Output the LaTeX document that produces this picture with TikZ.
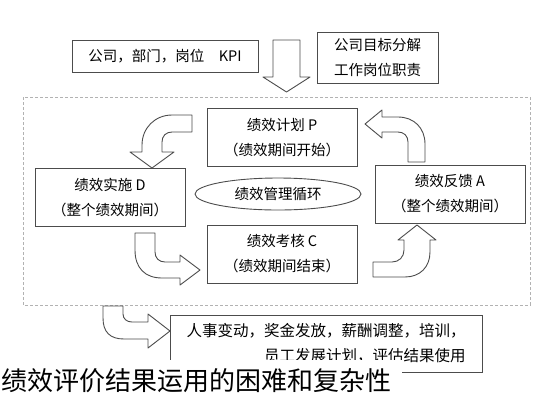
\documentclass[tikz,border=0pt]{standalone}
\usepackage{fontspec}
\setmainfont{Noto Sans CJK SC}
\usepackage{tikz}
\usetikzlibrary{shapes.geometric}
\newcommand{\fs}[2]{\fontsize{#1}{#2}\selectfont}

\begin{document}
\begin{tikzpicture}[x=1pt,y=-1pt,
  bx/.style={draw=black!70,line width=.9pt,align=center,inner sep=0pt,font=\fs{14.5}{25}},
  arw/.style={draw=black!70,line width=.9pt,fill=white,line join=round}]
\useasboundingbox (0,0) rectangle (553,400);
\draw[black!30,dash pattern=on 3pt off 2pt,line width=.7pt] (23,97) rectangle (530,305);
\node[bx,minimum width=186pt,minimum height=32pt] (kpi) at (165,56) {公司，部门，岗位\quad KPI};
\node[bx,minimum width=121pt,minimum height=51pt] (goal) at (377.5,57.5) {公司目标分解\\工作岗位职责};
\foreach \n/\x/\y/\a/\b in {p/282/137.5/绩效计划 P/（绩效期间开始）, d/110/197.5/绩效实施 D/（整个绩效期间）,
    a/450/194/绩效反馈 A/（整个绩效期间）, c/282/254/绩效考核 C/（绩效期间结束）}
  \node[bx,minimum width=150pt,minimum height=58pt] (\n) at (\x,\y) {\a\\\b};
\node[bx,ellipse,minimum width=166pt,minimum height=32pt] (loop) at (278,194) {绩效管理循环};
\node[bx,minimum width=312pt,minimum height=57pt,align=right,font=\fs{15.5}{25}] (use) at (326,343.5)
  {人事变动，奖金发放，薪酬调整，培训，\\员工发展计划，评估结果使用};
\draw[arw] (273,40) -- (300,40) -- (300,77) -- (310,77) -- (286.5,92) -- (263,77) -- (273,77) -- cycle;
\draw[arw] (192,115) -- (172,115) .. controls (155,115) and (142,128) .. (142,145) -- (142,152) -- (130,152)
  -- (152,168) -- (174,152) -- (162,152) -- (162,142) .. controls (162,136) and (166,132) .. (172,132) -- (192,132) -- cycle;
\draw[arw] (408,162) -- (408,142) .. controls (408,136) and (404,132) .. (398,132) -- (382,132) -- (382,138)
  -- (365,124) -- (382,110) -- (382,117) -- (398,117) .. controls (414,117) and (425,128) .. (425,144) -- (425,162) -- cycle;
\draw[arw] (135,233) -- (135,250) .. controls (135,268) and (145,278) .. (162,278) -- (180,278) -- (180,285)
  -- (200,270) -- (180,255) -- (180,262) -- (165,262) .. controls (159,262) and (155,258) .. (155,252) -- (155,233) -- cycle;
\draw[arw] (373,262) -- (392,262) .. controls (399,262) and (404,257) .. (404,250) -- (404,240) -- (398,240)
  -- (417,225) -- (436,240) -- (430,240) -- (430,252) .. controls (430,267) and (420,277) .. (405,277) -- (373,277) -- cycle;
\draw[arw] (103,306) -- (103,318) .. controls (103,332) and (110,339) .. (124,339) -- (148,339) -- (148,348)
  -- (170,331) -- (148,314) -- (148,322) -- (132,322) .. controls (127,322) and (123,319) .. (123,314) -- (123,306) -- cycle;
\node[fill=white,anchor=west,inner xsep=1pt,inner ysep=9pt,text width=400pt,font=\fs{26}{26}] (cap) at (0,381) {绩效评价结果运用的困难和复杂性};
\end{tikzpicture}
\end{document}
